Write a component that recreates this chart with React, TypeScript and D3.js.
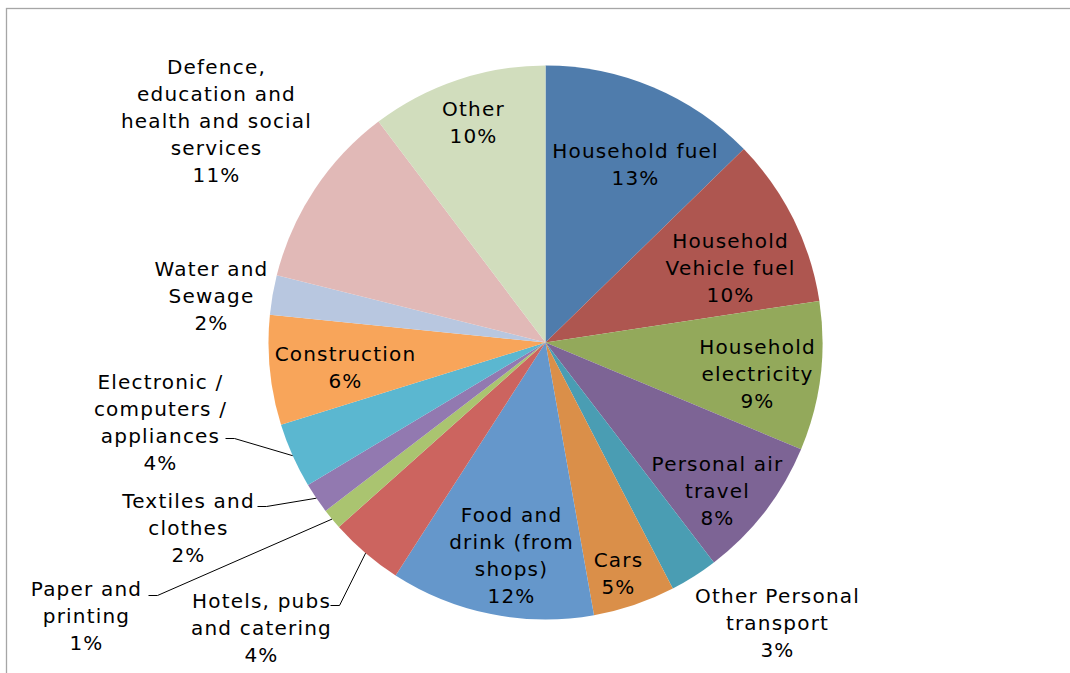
import React, { useEffect, useRef } from "react"
import * as d3 from "d3"

// slice names, one entry per line of the label
const categories = [
  ["Household fuel"],
  ["Household", "Vehicle fuel"],
  ["Household", "electricity"],
  ["Personal air", "travel"],
  ["Other Personal", "transport"],
  ["Cars"],
  ["Food and", "drink (from", "shops)"],
  ["Hotels, pubs", "and catering"],
  ["Paper and", "printing"],
  ["Textiles and", "clothes"],
  ["Electronic /", "computers /", "appliances"],
  ["Construction"],
  ["Water and", "Sewage"],
  ["Defence,", "education and", "health and social", "services"],
  ["Other"],
]

// share of emissions (%)
const shares = [12.7, 9.9, 8.7, 8.3, 2.8, 4.8, 11.9, 4.3, 1.2, 1.8, 3.8, 6.4, 2.3, 10.8, 10.3]

const colors = [
  "#4F7CAC", "#AE5650", "#93A95B", "#7D6495", "#4A9DB3",
  "#DA8F49", "#6597CB", "#CC645F", "#AAC470", "#9279B0",
  "#5BB7D0", "#F8A55A", "#B8C7E0", "#E1B9B7", "#D1DDBD",
]

// label layout: centre of first line, offset from pie centre
const labelAt = [
  [90, -192], [185, -102], [212, 4], [172, 121], [232, 253],
  [73, 217], [-34, 172], [-284, 258], [-459, 246], [-357, 158],
  [-385, 39], [-200, 11], [-334, -74], [-329, -276], [-72, -234],
]

// leader line start (label side), offset from pie centre; null = no leader
const leaderFrom: (number[] | null)[] = [
  null, null, null, null, null, null, null,
  [-215, 263], [-397, 253], [-288, 164], [-320, 96],
  null, null, null, null,
]

export default function App() {
  const ref = useRef(null)

  useEffect(() => {
    const width = 1070, height = 673
    const cx = 545.5, cy = 342.5, radius = 277
    const lineH = 27

    const svg = d3.select(ref.current)
    svg.selectAll("*").remove()
    svg.attr("width", width).attr("height", height)

    svg.append("rect")
      .attr("width", width).attr("height", height)
      .attr("fill", "#fff")

    // chart frame (only top and left show)
    svg.append("rect")
      .attr("x", 6.5).attr("y", 8.5)
      .attr("width", width + 20).attr("height", height + 20)
      .attr("fill", "none")
      .attr("stroke", "#A6A6A6")
      .attr("stroke-width", 1.3)

    const g = svg.append("g").attr("transform", "translate(" + cx + "," + cy + ")")

    const pie = d3.pie<number>().sort(null).value(d => d)
    const arcs = pie(shares)
    const arc = d3.arc<d3.PieArcDatum<number>>().innerRadius(0).outerRadius(radius)

    g.selectAll("path.slice")
      .data(arcs)
      .enter()
      .append("path")
      .attr("class", "slice")
      .attr("d", arc)
      .attr("fill", (d, i) => colors[i])

    // leader lines: short horizontal tick, then to the slice edge at its mid angle
    arcs.forEach((d, i) => {
      const from = leaderFrom[i]
      if (!from) return
      const mid = (d.startAngle + d.endAngle) / 2
      const ex = radius * Math.sin(mid)
      const ey = -radius * Math.cos(mid)
      const kinkX = from[0] + (ex > from[0] ? 9 : -9)
      g.append("path")
        .attr("d", d3.line()([[from[0], from[1]], [kinkX, from[1]], [ex, ey]]))
        .attr("fill", "none")
        .attr("stroke", "#000")
        .attr("stroke-width", 1)
    })

    const fmt = d3.format(".0f")
    const labels = g.selectAll("text.lbl")
      .data(arcs)
      .enter()
      .append("text")
      .attr("class", "lbl")
      .attr("text-anchor", "middle")
      .style("font-family", "'DejaVu Sans', sans-serif")
      .style("font-size", "20px")
      .style("letter-spacing", "1.2px")
      .attr("fill", "#000")

    labels.each(function (d, i) {
      const t = d3.select(this)
      const lines = categories[i].concat([fmt(d.value) + "%"])
      lines.forEach((s, k) => {
        t.append("tspan")
          .attr("x", labelAt[i][0])
          .attr("y", labelAt[i][1] + k * lineH)
          .attr("dominant-baseline", "central")
          .text(s)
      })
    })
  }, [])

  return (
    <svg
      ref={ref}
      style={{ position: "absolute", left: 0, top: 0, display: "block" }}
    ></svg>
  )
}
